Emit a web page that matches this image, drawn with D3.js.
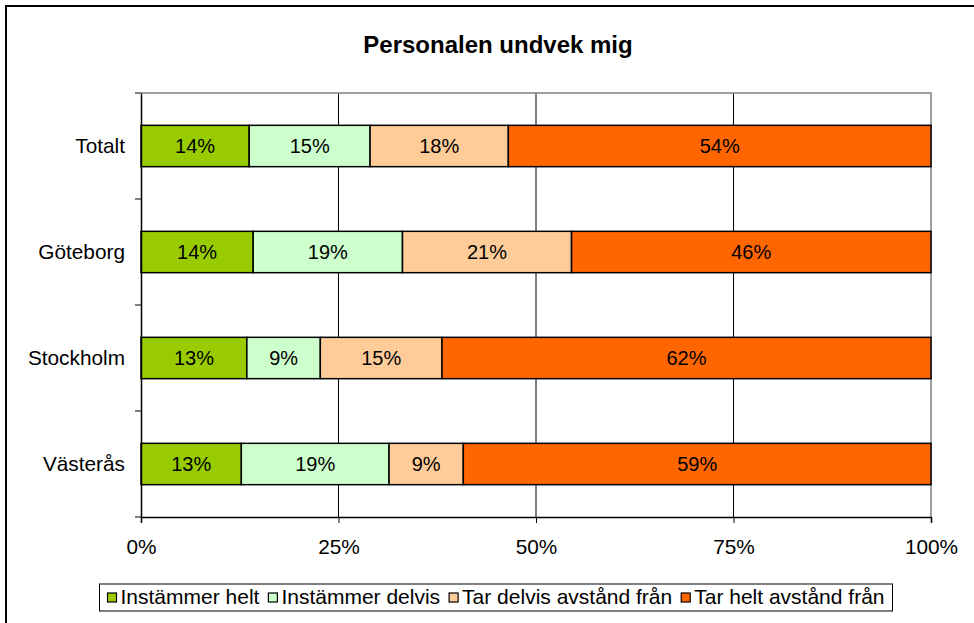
<!DOCTYPE html>
<html>
<head>
<meta charset="utf-8">
<script src="https://cdn.jsdelivr.net/npm/d3@7"></script>
<style>
  body { margin: 0; background: #fff; }
  text { font-family: "Liberation Sans", Arial, sans-serif; }
</style>
</head>
<body>
<div id="chart"></div>
<script>
// categories, top to bottom
var categories = ["Totalt", "Göteborg", "Stockholm", "Västerås"];
var seriesNames = ["Instämmer helt", "Instämmer delvis", "Tar delvis avstånd från", "Tar helt avstånd från"];
var seriesColors = ["#99cc00", "#ccffcc", "#ffcc99", "#ff6600"];

// share in percent per category
var instammerHelt   = [13.7, 14.2, 13.4, 12.7];
var instammerDelvis = [15.3, 18.9, 9.3, 18.7];
var tarDelvis       = [17.5, 21.4, 15.4, 9.4];
var tarHelt         = [53.5, 45.5, 61.9, 59.2];

var xTicks = [0, 25, 50, 75, 100];

(function drawChart() {
  var width = 974;
  var height = 623;
  var plotLeft = 141, plotRight = 931, plotTop = 93, plotBottom = 517;
  var labelSize = "20px";
  var axisSize = "20.8px";

  var allSeries = [instammerHelt, instammerDelvis, tarDelvis, tarHelt];
  var data = categories.map(function(c, i) {
    var row = {cat: c};
    seriesNames.forEach(function(s, j) { row[s] = allSeries[j][i]; });
    return row;
  });

  var stacked = d3.stack().keys(seriesNames)(data);

  var svg = d3.select("#chart").append("svg")
    .attr("width", width)
    .attr("height", height);

  svg.append("rect")
    .attr("width", width).attr("height", height)
    .attr("fill", "#fff");

  // outer frame (right and bottom edges fall outside the picture)
  svg.append("rect")
    .attr("x", 6).attr("y", 6)
    .attr("width", 980).attr("height", 640)
    .attr("fill", "none")
    .attr("stroke", "#000")
    .attr("stroke-width", 2);

  svg.append("text")
    .attr("x", 498).attr("y", 53)
    .attr("text-anchor", "middle")
    .style("font-size", "24px")
    .style("font-weight", "bold")
    .text("Personalen undvek mig");

  var xScale = d3.scaleLinear().domain([0, 100]).range([plotLeft, plotRight]);
  var yScale = d3.scaleBand().domain(categories).range([plotTop, plotBottom])
    .paddingInner(0.61).paddingOuter(0.305);
  var color = d3.scaleOrdinal().domain(seriesNames).range(seriesColors);

  /* grid */
  svg.append("g")
    .selectAll("line")
    .data([25, 50, 75]).enter()
    .append("line")
    .attr("x1", d => xScale(d)).attr("x2", d => xScale(d))
    .attr("y1", plotTop).attr("y2", plotBottom)
    .attr("stroke", "#000")
    .attr("stroke-width", 1);

  // plot border top/right in grey
  svg.append("path")
    .attr("d", `M${plotLeft},${plotTop}H${plotRight}V${plotBottom}`)
    .attr("fill", "none")
    .attr("stroke", "#808080")
    .attr("stroke-width", 1.5);

  /* bars */
  var groups = svg.append("g").selectAll("g")
    .data(stacked).enter()
    .append("g")
    .attr("fill", d => color(d.key));

  groups.selectAll("rect")
    .data(d => d).enter()
    .append("rect")
    .attr("x", d => xScale(d[0]))
    .attr("width", d => xScale(d[1]) - xScale(d[0]))
    .attr("y", d => yScale(d.data.cat))
    .attr("height", yScale.bandwidth())
    .attr("stroke", "#000")
    .attr("stroke-width", 1.5);

  groups.selectAll("text")
    .data(d => d.map(v => ({v: v, key: d.key}))).enter()
    .append("text")
    .attr("x", d => (xScale(d.v[0]) + xScale(d.v[1])) / 2)
    .attr("y", d => yScale(d.v.data.cat) + yScale.bandwidth() / 2)
    .attr("dy", "0.36em")
    .attr("text-anchor", "middle")
    .attr("fill", "#000")
    .style("font-size", labelSize)
    .text(d => Math.round(d.v.data[d.key]) + "%");

  /* axes */
  var xAxis = d3.axisBottom(xScale).tickValues(xTicks)
    .tickSize(6).tickPadding(16)
    .tickFormat(d => d + "%");

  var gx = svg.append("g")
    .attr("transform", `translate(0, ${plotBottom})`)
    .call(xAxis);
  gx.select(".domain").attr("stroke", "#000").attr("stroke-width", 1.5);
  gx.selectAll(".tick line").attr("stroke", "#000");
  gx.selectAll(".tick text")
    .attr("fill", "#000")
    .style("font-size", axisSize)
    .style("font-family", "'Liberation Sans', Arial, sans-serif");

  var yAxis = d3.axisLeft(yScale).tickSize(0).tickPadding(16);
  var gy = svg.append("g")
    .attr("transform", `translate(${plotLeft}, 0)`)
    .call(yAxis);
  gy.select(".domain").attr("stroke", "#000").attr("stroke-width", 1.5);
  gy.selectAll(".tick text")
    .attr("fill", "#000")
    .style("font-size", axisSize)
    .style("font-family", "'Liberation Sans', Arial, sans-serif");

  // category boundary ticks
  var edges = categories.map(c => yScale(c) - yScale.step() * yScale.paddingInner() / 2);
  edges.push(plotBottom);
  gy.selectAll(".edge")
    .data(edges).enter()
    .append("line")
    .attr("class", "edge")
    .attr("x1", -6).attr("x2", 0)
    .attr("y1", d => d).attr("y2", d => d)
    .attr("stroke", "#000");

  /* legend */
  var legend = svg.append("g");
  var lx = 0;
  var items = legend.selectAll("g")
    .data(seriesNames).enter()
    .append("g");

  items.append("rect")
    .attr("width", 9).attr("height", 9)
    .attr("y", -11)
    .attr("fill", d => color(d))
    .attr("stroke", "#000")
    .attr("stroke-width", 1.2);

  items.append("text")
    .attr("x", 13)
    .style("font-size", "21px")
    .text(d => d);

  items.each(function() {
    var g = d3.select(this);
    g.attr("transform", `translate(${lx}, 0)`);
    lx += 13 + g.select("text").node().getComputedTextLength() + 9;
  });
  var contentW = lx - 9;
  var boxW = contentW + 16;
  var boxX = 496 - boxW / 2;

  legend.insert("rect", ":first-child")
    .attr("x", -8).attr("y", -20)
    .attr("width", boxW).attr("height", 27)
    .attr("fill", "#fff")
    .attr("stroke", "#000")
    .attr("stroke-width", 1);

  legend.attr("transform", `translate(${boxX + 8}, 604)`);
})();
</script>
</body>
</html>
